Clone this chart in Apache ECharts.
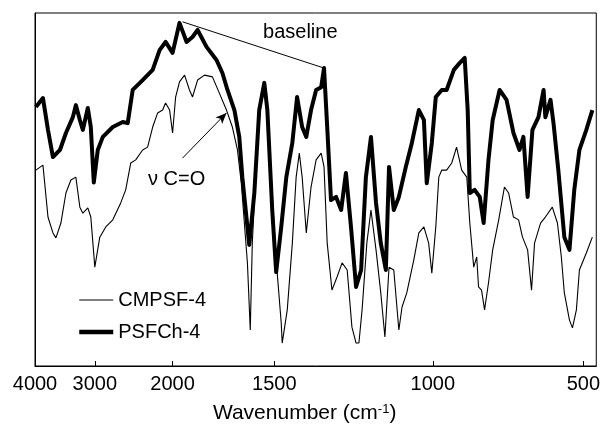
<!DOCTYPE html>
<html>
<head>
<meta charset="utf-8">
<script src="https://cdn.jsdelivr.net/npm/echarts@6/dist/echarts.min.js"></script>
<style>html,body{margin:0;padding:0;background:#fff}#c{width:603px;height:430px}</style>
</head>
<body>
<div id="c"></div>
<script>
// ---- data (wavenumber in cm-1, transmittance in arbitrary %) ----
const tickWavenumbers = [4000, 3000, 2000, 1500, 1000, 500];
const tickLabels = ['4000', '3000', '2000', '1500', '1000', '500'];

const wnPSFCh = [3985,3867,3783,3700,3583,3483,3367,3317,3250,3200,3117,3067,3017,2962,2897,2769,2641,2577,2513,2385,2256,2167,2090,2000,1966,1931,1902,1877,1833,1784,1755,1730,1696,1672,1657,1637,1623,1598,1574,1549,1534,1510,1494,1478,1462,1443,1428,1412,1399,1384,1368,1352,1343,1333,1321,1305,1289,1274,1258,1242,1226,1211,1195,1179,1164,1148,1138,1123,1107,1085,1066,1044,1028,1019,1003,990,970,954,930,911,894,884,877,861,844,831,815,801,778,755,732,712,699,685,669,649,632,626,609,599,583,563,546,530,513,490,470];
const tPSFCh = [73.4,75.9,66.9,59.2,61.2,66.0,70.5,73.9,69.7,66.9,73.1,67.7,52.0,61.2,64.9,67.7,69.1,68.8,78.2,81.0,83.9,89.5,91.8,88.7,97.2,91.8,93.2,95.2,90.4,86.7,83.0,78.2,72.5,64.9,53.5,42.2,34.3,49.0,72.5,80.2,72.5,44.2,26.6,39.4,53.5,63.2,76.2,67.7,64.9,72.5,78.2,79.0,84.4,67.7,47.0,47.9,44.2,54.7,39.4,22.4,27.2,53.5,64.9,46.2,34.8,27.2,56.4,44.2,47.9,56.4,63.2,72.5,69.7,51.8,63.2,76.2,78.2,78.2,83.9,85.8,87.3,72.5,49.0,49.9,47.9,40.5,58.4,69.7,78.2,75.4,66.0,61.2,64.9,47.9,66.9,70.5,78.2,70.5,75.4,68.8,55.5,36.5,32.9,49.9,61.2,66.9,72.5];

const wnCMPSF = [3985,3867,3783,3700,3650,3567,3483,3400,3317,3250,3200,3117,3067,3000,2936,2859,2769,2667,2603,2538,2474,2385,2321,2256,2192,2128,2090,2038,2000,1985,1966,1941,1917,1902,1877,1843,1804,1770,1735,1706,1681,1662,1647,1632,1618,1608,1583,1559,1539,1515,1494,1478,1475,1459,1443,1431,1421,1412,1399,1384,1368,1352,1343,1333,1318,1302,1286,1270,1255,1242,1233,1223,1208,1195,1179,1164,1151,1138,1123,1107,1097,1082,1060,1044,1028,1013,1003,990,980,970,954,937,921,904,887,877,864,854,848,838,828,815,801,781,762,748,732,715,702,685,672,662,642,626,603,586,573,563,546,536,523,513,490,470];
const tCMPSF = [55.5,56.9,42.2,37.7,36.3,40.5,49.0,52.7,53.5,45.0,43.3,44.8,42.2,28.0,36.5,39.4,41.4,46.2,49.9,57.5,58.4,61.2,62.0,67.7,71.7,72.5,74.5,72.5,66.0,76.2,80.5,82.4,78.2,76.2,81.0,82.4,81.9,77.3,72.5,67.7,61.2,51.8,40.5,29.2,10.2,34.8,63.2,78.2,78.2,53.5,30.0,12.2,6.5,15.9,34.8,53.5,60.3,53.5,37.7,50.7,58.4,60.3,56.4,34.8,21.5,25.2,29.2,27.2,11.0,6.5,6.5,15.9,34.8,44.2,32.9,20.7,8.2,28.0,27.2,10.2,16.7,20.7,30.0,37.7,39.4,34.8,26.3,39.4,53.5,55.5,55.5,57.5,62.0,55.5,53.5,40.5,28.0,30.9,22.4,21.5,15.9,23.5,32.9,41.4,50.7,49.0,42.2,41.4,36.5,32.9,21.5,34.8,40.5,42.2,45.0,40.5,30.9,20.7,13.0,10.8,15.9,27.2,32.0,36.5];

const baselineWn = [1951, 1343];
const baselineT = [97.5, 84.4];
const arrowWn = [1951, 1735];
const arrowT = [58.9, 71.7];
const annotationBaseline = { text: 'baseline', wn: 1418, t: 94.6 };
const annotationCO = { text: 'ν C=O', wn: 1980, t: 52.7 };

// ---- piecewise axis scale (the original figure uses a segmented wavenumber axis) ----
const axisStops = [0, 60, 138, 240, 399, 550];
const axisEnd = 563;
function toAxis(wn) {
  const w = tickWavenumbers, s = axisStops;
  let i = 0;
  if (wn <= w[w.length - 1]) i = w.length - 2;
  else { while (i < w.length - 2 && wn < w[i + 1]) i++; }
  return s[i] + (w[i] - wn) / (w[i] - w[i + 1]) * (s[i + 1] - s[i]);
}
const FONT = 'Liberation Sans, Arial, sans-serif';
const pairs = (wn, t) => wn.map((w, i) => [toAxis(w), t[i]]);

const chart = echarts.init(document.getElementById('c'), null, { renderer: 'canvas' });
chart.setOption({
  animation: false,
  backgroundColor: '#fff',
  grid: { left: 35, right: 5, top: 13, bottom: 64, show: true, borderColor: '#000', borderWidth: 1 },
  legend: {
    data: [
      { name: 'CMPSF-4', lineStyle: { width: 1, color: '#000' } },
      { name: 'PSFCh-4', lineStyle: { width: 4.5, color: '#000' } }
    ],
    orient: 'vertical', left: 72, top: 285,
    itemWidth: 34, itemHeight: 14, itemGap: 12,
    itemStyle: { opacity: 0 },
    textStyle: { fontSize: 20, fontFamily: FONT, color: '#000' }
  },
  xAxis: {
    type: 'value', min: 0, max: axisEnd,
    axisLine: { show: true, lineStyle: { color: '#000', width: 1 } },
    axisTick: { show: true, inside: true, length: 5, customValues: axisStops, lineStyle: { color: '#000' } },
    axisLabel: {
      customValues: axisStops, margin: 8, fontSize: 20, fontFamily: FONT, color: '#000',
      formatter: v => tickLabels[axisStops.indexOf(v)] || ''
    },
    splitLine: { show: false },
    name: 'Wavenumber (cm{sup|-1})', nameLocation: 'middle', nameGap: 37,
    nameTextStyle: {
      fontSize: 21, fontFamily: FONT, color: '#000', padding: [0, 22, 0, 0],
      rich: { sup: { fontSize: 13, fontFamily: FONT, color: '#000', verticalAlign: 'top', padding: [0, 0, 8, 0] } }
    }
  },
  yAxis: {
    type: 'value', min: 0, max: 100,
    axisLine: { show: true, lineStyle: { color: '#000' } },
    axisTick: { show: false }, axisLabel: { show: false }, splitLine: { show: false }
  },
  series: [
    {
      name: 'CMPSF-4', type: 'line', symbol: 'none', z: 2,
      lineStyle: { color: '#000', width: 1.1 }, itemStyle: { color: '#000' },
      data: pairs(wnCMPSF, tCMPSF)
    },
    {
      name: 'PSFCh-4', type: 'line', symbol: 'none', z: 3,
      lineStyle: { color: '#000', width: 4, join: 'round' }, itemStyle: { color: '#000' },
      data: pairs(wnPSFCh, tPSFCh)
    },
    {
      name: 'annotations', type: 'line', symbol: 'none', data: [], z: 4,
      markLine: {
        silent: true, animation: false, label: { show: false },
        data: [
          [{ coord: [toAxis(baselineWn[0]), baselineT[0]], symbol: 'none' },
           { coord: [toAxis(baselineWn[1]), baselineT[1]], symbol: 'none' }],
          [{ coord: [toAxis(arrowWn[0]), arrowT[0]], symbol: 'none' },
           { coord: [toAxis(arrowWn[1]), arrowT[1]], symbol: 'arrow', symbolSize: [7, 11] }]
        ],
        lineStyle: { color: '#000', width: 1, type: 'solid' },
        emphasis: { disabled: true }
      },
      markPoint: {
        silent: true, symbol: 'circle', symbolSize: 0,
        label: { show: true, position: 'inside', fontSize: 20, fontFamily: FONT, color: '#000' },
        data: [
          { coord: [toAxis(annotationBaseline.wn), annotationBaseline.t], label: { formatter: annotationBaseline.text } },
          { coord: [toAxis(annotationCO.wn), annotationCO.t], label: { formatter: annotationCO.text } }
        ]
      }
    }
  ]
});
</script>
</body>
</html>
